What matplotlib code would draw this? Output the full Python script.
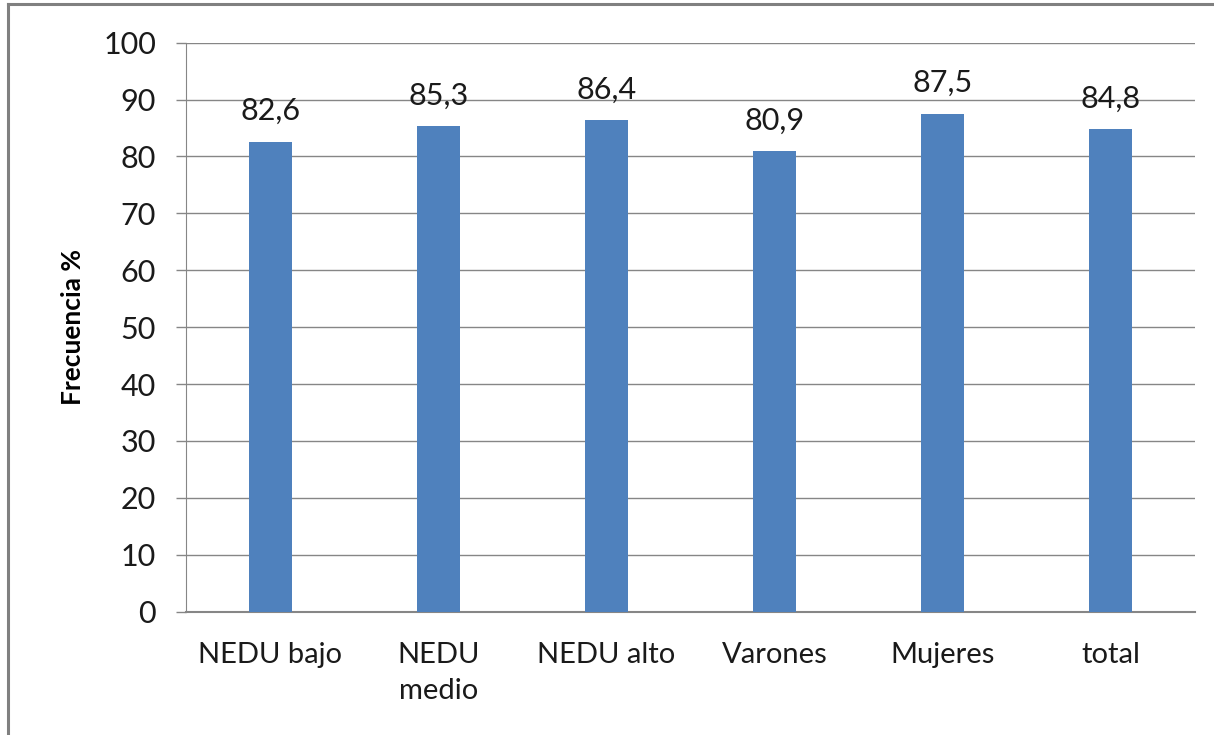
import matplotlib.pyplot as plt
from matplotlib.lines import Line2D

categories = ['NEDU bajo', 'NEDU\nmedio', 'NEDU alto', 'Varones', 'Mujeres', 'total']
values = [82.6, 85.3, 86.4, 80.9, 87.5, 84.8]
labels = ['82,6', '85,3', '86,4', '80,9', '87,5', '84,8']
yticks = list(range(0, 101, 10))

plt.rcParams['font.family'] = ['Lato', 'DejaVu Sans']

fig = plt.figure(figsize=(12.14, 7.35), dpi=100)
ax = fig.add_axes([0.1532, 0.1678, 0.8311, 0.7741])

x = list(range(len(categories)))
ax.bar(x, values, width=0.255, color='#4F81BD', zorder=3)
for xi, v, lab in zip(x, values, labels):
    ax.annotate(lab, (xi, v), xytext=(0, 12), textcoords='offset points',
                ha='center', va='bottom', fontsize=22, color='#1a1a1a')

ax.set_xlim(-0.5, len(categories) - 0.5)
ax.set_ylim(0, 100)
ax.set_yticks(yticks)
ax.set_yticklabels([str(t) for t in yticks], fontsize=22, color='#1a1a1a')
ax.set_xticks(x)
ax.set_xticklabels(categories, fontsize=21, color='#1a1a1a', linespacing=1.45)
ax.tick_params(axis='x', length=0, pad=22)
ax.tick_params(axis='y', length=7.5, width=1, color='#868686', pad=14)
ax.yaxis.grid(True, color='#868686', linewidth=1, zorder=0)
for s in ['top', 'right']:
    ax.spines[s].set_visible(False)
ax.spines['left'].set_color('#868686')
ax.spines['bottom'].set_color('#868686')
ax.spines['bottom'].set_linewidth(1.5)
ax.set_ylabel('Frecuencia %', fontsize=19, fontweight='bold', labelpad=13)

# outer chart border (only left and top show in the crop)
fig.add_artist(Line2D([8 / 1214, 8 / 1214], [0, 1 - 4 / 735], transform=fig.transFigure,
                      color='#808080', linewidth=2.2))
fig.add_artist(Line2D([8 / 1214, 1], [1 - 4 / 735, 1 - 4 / 735], transform=fig.transFigure,
                      color='#808080', linewidth=2.2))

fig.savefig('out.png', dpi=100)
